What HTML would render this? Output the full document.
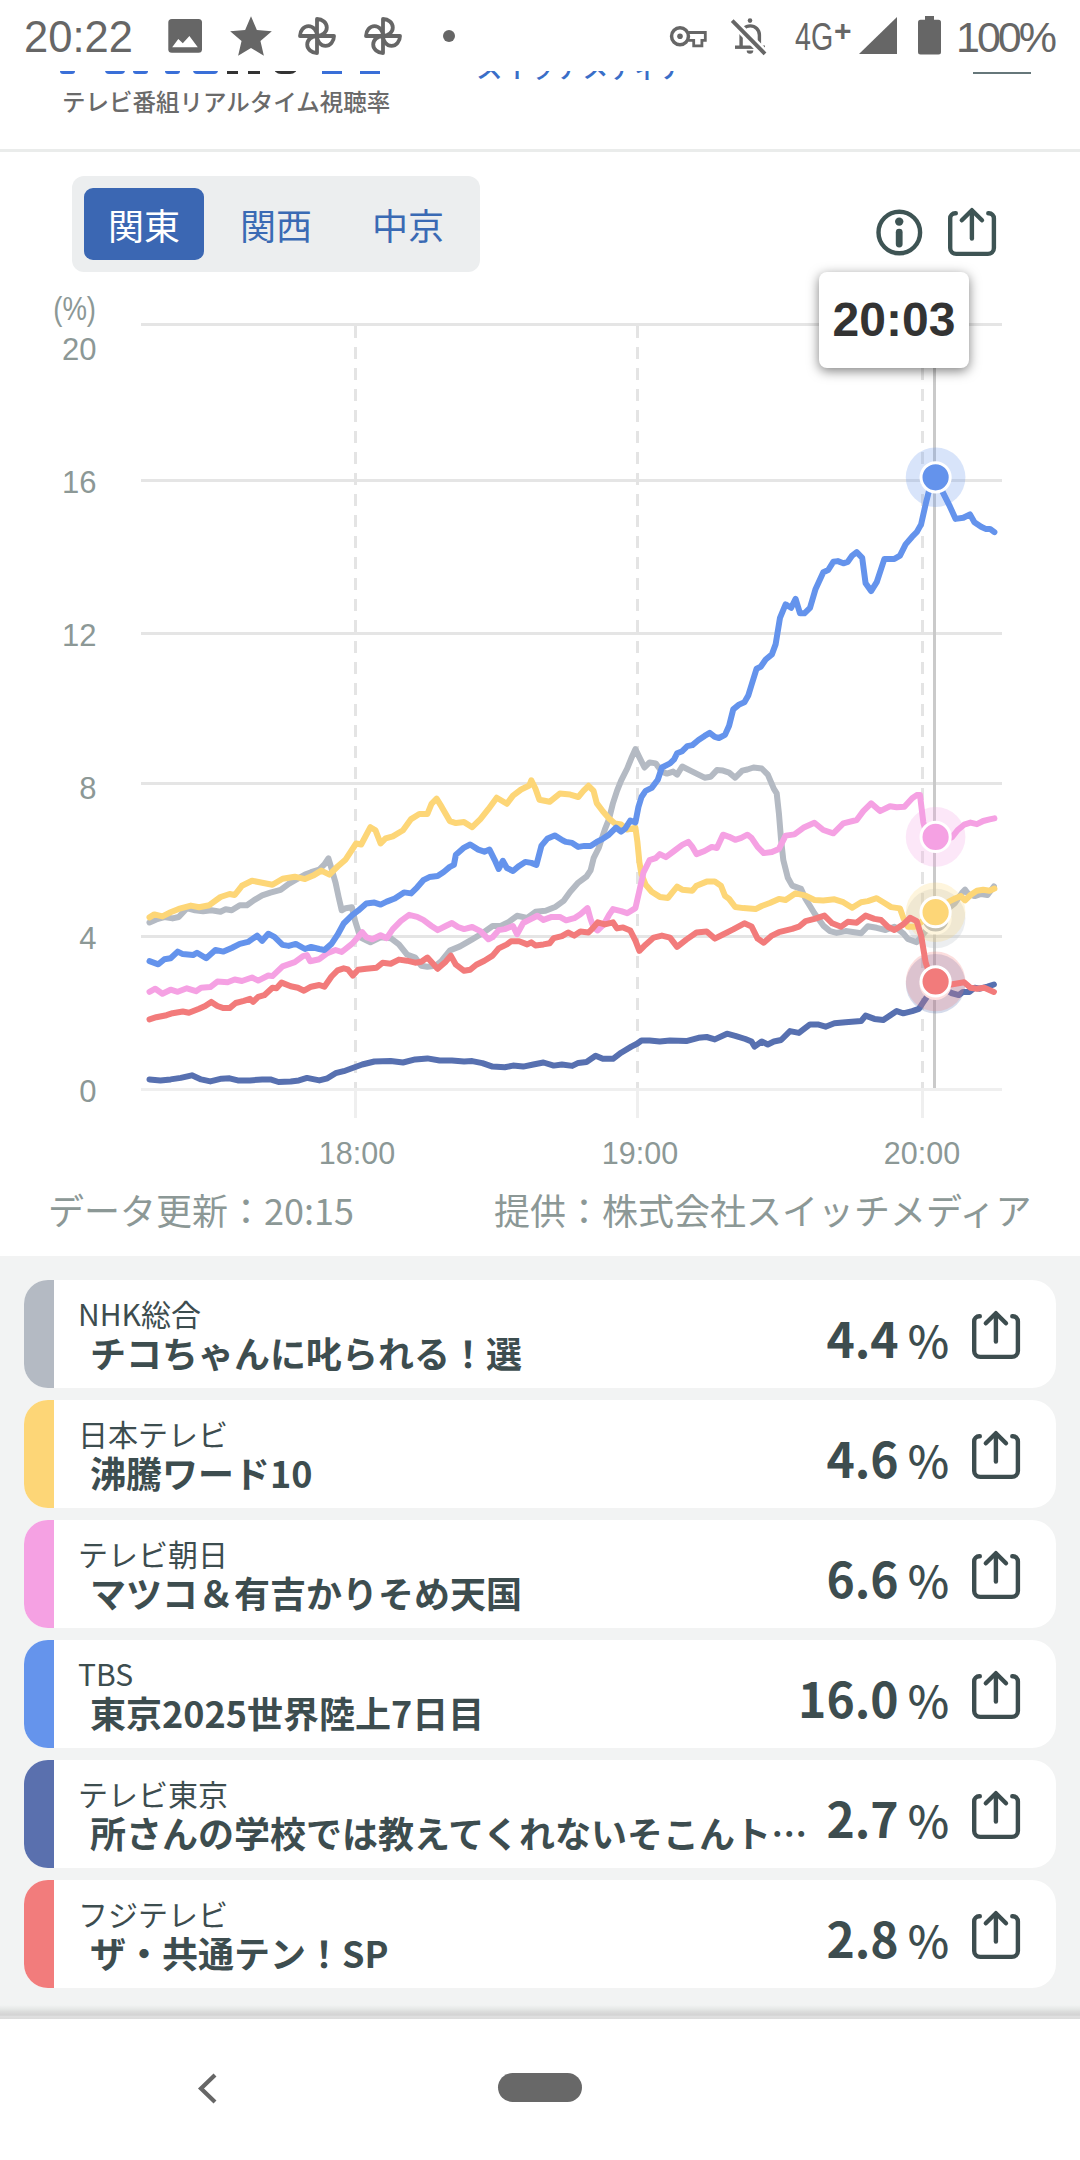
<!DOCTYPE html>
<html lang="ja">
<head>
<meta charset="utf-8">
<title>テレビ番組リアルタイム視聴率</title>
<style>
html,body{margin:0;padding:0;}
body{width:1080px;height:2160px;overflow:hidden;background:#fff;position:relative;font-family:"Liberation Sans","Noto Sans CJK JP",sans-serif;}
.abs{position:absolute;}
.jp{font-family:"Noto Sans CJK JP","Liberation Sans",sans-serif;}
#status{position:absolute;left:0;top:0;width:1080px;height:71px;background:#fff;z-index:10;}
#status .t{position:absolute;color:#666;font-family:"Liberation Sans",sans-serif;white-space:nowrap;}
#hdr{position:absolute;left:0;top:0;width:1080px;height:151px;background:#fff;border-bottom:0;}
.sep{position:absolute;left:0;top:149px;width:1080px;height:3px;background:#eaeceb;}
.seg{position:absolute;left:72px;top:176px;width:408px;height:96px;background:#eceeef;border-radius:12px;}
.seg .b{position:absolute;top:12px;height:72px;width:120px;border-radius:9px;font-size:36px;line-height:72px;text-align:center;color:#3a6ab4;}
.seg .on{background:#3b67b3;color:#fff;}
.ylab{position:absolute;right:983.5px;font-size:31px;line-height:31px;color:#8c9896;text-align:right;white-space:nowrap;}
.xlab{position:absolute;width:120px;font-size:30.5px;line-height:30px;color:#8c9896;text-align:center;}
.foot{position:absolute;top:1189px;font-size:36px;line-height:40px;color:#8c9896;white-space:nowrap;}
#list{position:absolute;left:0;top:1256px;width:1080px;height:751px;background:#f2f3f3;}
.card{position:absolute;left:24px;width:1032px;height:108px;background:#fff;border-radius:24px;overflow:hidden;}
.card .bar{position:absolute;left:0;top:0;width:30px;height:108px;}
.card .ch{position:absolute;left:54px;top:16px;font-size:30px;line-height:34px;color:#3d4d4f;white-space:nowrap;}
.card .ti{position:absolute;left:66px;top:50px;font-size:36px;line-height:44px;font-weight:700;color:#3d4d4f;white-space:nowrap;}
.card .val{position:absolute;right:107px;top:29px;font-size:48px;line-height:56px;font-weight:700;color:#3d4d4f;white-space:nowrap;}
.card .val span{font-size:44px;font-weight:500;margin-left:9px;}
.card svg.sh{position:absolute;left:946px;top:29px;}
#navshadow{position:absolute;left:0;top:2005px;width:1080px;height:14px;background:linear-gradient(#f2f3f3 0px,#e6e8e7 4px,#dcdddc 6.5px,#d3d3d3 10px,#dfdfdf 11.5px,#dcdcdc 14px);}
#nav{position:absolute;left:0;top:2019px;width:1080px;height:141px;background:#fff;}
</style>
</head>
<body>
<!-- header (scrolled under status bar) -->
<div id="hdr">
  <div class="abs" style="left:60px;top:70px;width:15px;height:4px;background:#3a6fd8;border-radius:0 0 3px 3px"></div>
  <div class="abs" style="left:105px;top:70px;width:20px;height:4px;background:#3a6fd8;border-radius:0 0 6px 6px"></div>
  <div class="abs" style="left:133px;top:70px;width:15px;height:4px;background:#3a6fd8;border-radius:0 0 3px 3px"></div>
  <div class="abs" style="left:165px;top:70px;width:15px;height:4px;background:#3a6fd8;border-radius:0 0 3px 3px"></div>
  <div class="abs" style="left:193px;top:70px;width:25px;height:4px;background:#3a6fd8;border-radius:0 0 8px 8px"></div>
  <div class="abs" style="left:227px;top:70px;width:11px;height:4px;background:#333;"></div>
  <div class="abs" style="left:248px;top:70px;width:12px;height:4px;background:#333;"></div>
  <div class="abs" style="left:273px;top:66px;width:25px;height:8px;background:#333;border-radius:0 0 13px 13px"></div>
  <div class="abs" style="left:322px;top:70px;width:20px;height:4px;background:#3a6fd8;"></div>
  <div class="abs" style="left:360px;top:70px;width:20px;height:4px;background:#3a6fd8;"></div>
  <div class="abs jp" style="left:476px;top:51.5px;font-size:26.5px;line-height:30px;color:#3a6ec8;font-weight:500;white-space:nowrap;">スイッチメディア</div>
  <div class="abs jp" style="left:62px;top:85.5px;font-size:23.5px;line-height:30px;color:#6a6a6a;font-weight:500;white-space:nowrap">テレビ番組リアルタイム視聴率</div>
  <div class="abs" style="left:973px;top:72px;width:58px;height:1.5px;background:#66777a"></div>
  <div class="sep"></div>
</div>

<!-- status bar -->
<div id="status">
  <div class="t" style="left:24px;top:15px;font-size:43.5px;line-height:44px">20:22</div>
  <svg class="abs" style="left:166px;top:18px" width="38" height="36" viewBox="0 0 38 36">
    <rect x="2.3" y="1.1" width="33.7" height="33.7" rx="3.5" fill="#666"/>
    <path d="M6.2 29.2 L12.3 21.1 L16.8 25.3 L23.4 18.1 L31.8 29.2 Z" fill="#fff"/>
  </svg>
  <svg class="abs" style="left:225.8px;top:12.2px" width="50" height="50" viewBox="0 0 24 24">
    <path d="M12 17.27L18.18 21l-1.64-7.03L22 9.24l-7.19-.61L12 2 9.19 8.63 2 9.24l5.46 4.73L5.82 21z" fill="#666"/>
  </svg>
  <svg class="abs" style="left:297px;top:16px" width="40" height="40" viewBox="-20 -20 40 40">
    <g fill="none" stroke="#666" stroke-width="3.8" stroke-linejoin="round" stroke-linecap="round">
      <path d="M0 0 V-17 A9.8 8.5 0 0 1 0 0 Z"/>
      <path d="M0 0 H17 A8.5 9.8 0 0 1 0 0 Z"/>
      <path d="M0 0 V17 A9.8 8.5 0 0 1 0 0 Z"/>
      <path d="M0 0 H-17 A8.5 9.8 0 0 1 0 0 Z"/>
    </g>
  </svg>
  <svg class="abs" style="left:363px;top:16px" width="40" height="40" viewBox="-20 -20 40 40">
    <g fill="none" stroke="#666" stroke-width="3.8" stroke-linejoin="round" stroke-linecap="round">
      <path d="M0 0 V-17 A9.8 8.5 0 0 1 0 0 Z"/>
      <path d="M0 0 H17 A8.5 9.8 0 0 1 0 0 Z"/>
      <path d="M0 0 V17 A9.8 8.5 0 0 1 0 0 Z"/>
      <path d="M0 0 H-17 A8.5 9.8 0 0 1 0 0 Z"/>
    </g>
  </svg>
  <div class="abs" style="left:443px;top:30px;width:12px;height:12px;border-radius:6px;background:#666"></div>
  <svg class="abs" style="left:665px;top:20px" width="45" height="30" viewBox="0 0 45 30">
    <circle cx="15" cy="16.3" r="8.45" fill="none" stroke="#666" stroke-width="3.5"/>
    <circle cx="15" cy="16.3" r="2.8" fill="#666"/>
    <path d="M23.2 12.5 H40.3 V20.3 H36.9 V25.8 H28.7 V20.3 H23.2" fill="none" stroke="#666" stroke-width="2.8"/>
  </svg>
  <svg class="abs" style="left:725px;top:15px" width="48" height="45" viewBox="0 0 48 45">
    <g fill="none" stroke="#666" stroke-width="3.4">
      <path d="M16.1 32.2 V20 A9.15 9.15 0 0 1 34.4 20 V32.2"/>
      <path d="M10 32.2 H40"/>
    </g>
    <path d="M21.7 35.4 A3.3 3.3 0 0 0 28.3 35.4 Z" fill="#666"/>
    <circle cx="25" cy="5.6" r="2.3" fill="#666"/>
    <path d="M7.2 5.6 L40 38.9" stroke="#fff" stroke-width="9"/>
    <path d="M7.2 5.6 L40 38.9" stroke="#666" stroke-width="3.9"/>
  </svg>
  <div class="t" style="left:795px;top:14.5px;font-size:39.5px;line-height:42px;transform:scaleX(0.725);transform-origin:0 0">4G</div>
  <div class="t" style="left:834px;top:15px;font-size:30px;line-height:32px;font-weight:bold">+</div>
  <svg class="abs" style="left:859px;top:17px" width="38" height="37" viewBox="0 0 38 37">
    <path d="M38 0 V37 H0 Z" fill="#666"/>
  </svg>
  <svg class="abs" style="left:918px;top:16px" width="23" height="39" viewBox="0 0 23 39">
    <rect x="7" y="0" width="9" height="4.5" fill="#666"/>
    <rect x="0" y="3.8" width="23" height="34.7" rx="2.5" fill="#666"/>
  </svg>
  <div class="t" style="left:956px;top:15px;font-size:43px;line-height:44px;letter-spacing:-3px">100%</div>
</div>

<!-- chart -->
<div class="seg">
  <div class="b on jp" style="left:12px">関東</div>
  <div class="b jp" style="left:144px">関西</div>
  <div class="b jp" style="left:276px">中京</div>
</div>
<svg class="abs" style="left:874px;top:207px" width="52" height="52" viewBox="0 0 52 52">
  <circle cx="25.3" cy="25.5" r="20.8" fill="none" stroke="#3e5454" stroke-width="4.4"/>
  <circle cx="25.2" cy="14.6" r="4.2" fill="#3e5454"/>
  <path d="M25.2 25.2 V37" stroke="#3e5454" stroke-width="6.8" stroke-linecap="round"/>
</svg>
<svg class="abs" style="left:946px;top:205.5px" width="52" height="52" viewBox="0 0 52 52"><g fill="none" stroke="#3e5454" stroke-width="4.4" stroke-linecap="round" stroke-linejoin="round"><path d="M9.8 7.3 H9.2 a5 5 0 0 0 -5 5 V41.9 a6 6 0 0 0 6 6 H41.9 a6 6 0 0 0 6 -6 V12.3 a5 5 0 0 0 -5 -5 H42.3"/><path d="M25.9 32.6 V5"/><path d="M15.8 14.3 L25.9 4.2 L36 14.3"/></g></svg>

<div class="ylab" style="top:296px;font-size:27.5px;right:984px;transform:scaleY(1.2);transform-origin:100% 100%">(%)</div>
<div class="ylab" style="top:334px">20</div>
<div class="ylab" style="top:467px">16</div>
<div class="ylab" style="top:620px">12</div>
<div class="ylab" style="top:773px">8</div>
<div class="ylab" style="top:923px">4</div>
<div class="ylab" style="top:1076px">0</div>

<svg class="abs" style="left:0;top:0" width="1080" height="1256" viewBox="0 0 1080 1256">
<rect x="141" y="323.0" width="861" height="3" fill="#e5e5e5"/>
<rect x="141" y="479.0" width="861" height="3" fill="#e5e5e5"/>
<rect x="141" y="632.0" width="861" height="3" fill="#e5e5e5"/>
<rect x="141" y="782.0" width="861" height="3" fill="#e5e5e5"/>
<rect x="141" y="935.0" width="861" height="3" fill="#e5e5e5"/>
<rect x="141" y="1088" width="861" height="3" fill="#efefef"/>
<line x1="355.5" y1="326" x2="355.5" y2="1088" stroke="#e4e4e4" stroke-width="3" stroke-dasharray="12 9"/>
<rect x="354.0" y="1088" width="3" height="30" fill="#efefef"/>
<line x1="637.5" y1="326" x2="637.5" y2="1088" stroke="#e4e4e4" stroke-width="3" stroke-dasharray="12 9"/>
<rect x="636.0" y="1088" width="3" height="30" fill="#efefef"/>
<line x1="922.5" y1="326" x2="922.5" y2="1088" stroke="#e4e4e4" stroke-width="3" stroke-dasharray="12 9"/>
<rect x="921.0" y="1088" width="3" height="30" fill="#efefef"/>

<rect x="933" y="368" width="3" height="720" fill="#cacaca"/>
<polyline points="149.5,922.5 156.3,919.4 164.4,917 172.6,918.4 178.7,917 186.9,908.2 195,910.3 203.1,911.3 211.3,910.3 220.5,911.7 225.6,909.3 231.7,910.3 239.8,905.2 246.9,905.2 254.1,900.1 262.2,895.4 270.4,892.6 280.6,889.9 288.7,883.8 296.9,879.1 305,874.6 311.1,872.2 319.3,869.5 324.4,864.4 328.4,858.3 331.5,868.5 335.6,882.8 338.6,897 341.7,910.3 345.7,908.2 351.9,907.2 355.1,920.9 360.2,937.2 370.4,942.3 380.6,937.2 390.7,938.2 398.9,944.4 407,954.5 415.2,957.6 421.3,965.7 427.4,966.8 435.6,965.7 441.7,960.7 449.8,950.5 460,946.4 472.2,939.3 482.4,933.2 492.6,926 500.7,926 508.9,921.9 517,915.8 527.2,917.9 535.4,911.8 545.6,910.7 555.7,906.7 563.9,900.6 570.2,891.8 578.3,882.6 586.5,876.5 590.6,870.4 593.6,858.2 598.7,848 604.8,829.6 608.9,819.4 613,803.1 617,790.9 621.1,780.7 627.2,768.5 631.3,758.3 635.4,749.2 639.4,757.3 644.5,767.5 649.6,762.4 655.7,763.4 661.9,771.6 666.9,773.6 673.1,771.6 677.1,774.6 682.2,766.5 690.4,770.6 698.5,774.6 704.6,777.7 710.7,776.7 716.9,770.1 723,770.6 729.1,772.6 735.2,777.7 742.3,770.6 747.4,769.5 753.5,767.5 761.7,768.5 767.8,774.6 773.9,788.9 776.7,793.3 778.9,813.3 781.1,840 783.3,860 787.8,877.8 792.2,885.6 801.1,888.9 805.6,898.9 814.4,913.3 823.3,925.6 830,931.1 836.7,932.9 845.6,931.1 854.4,932.2 861.1,933.3 867.8,926.2 876.7,927.8 885.6,930 894.4,926.7 903.3,933.3 907.8,938.9 916.7,942.2 935.6,918.9 954.5,903.5 962,892.9 965.1,889.7 968.3,894 974.7,896.1 981.1,894 987.5,895 993.9,886.5" fill="none" stroke="#b4bac3" stroke-width="6" stroke-linejoin="round" stroke-linecap="round"/>
<circle cx="935.6" cy="918.5" r="29.8" fill="#b4bac3" fill-opacity="0.25"/>
<circle cx="935.6" cy="918.5" r="14.6" fill="#b4bac3" stroke="#fff" stroke-width="3"/>
<polyline points="149.5,917.4 154.3,914.4 162.4,916.4 170.6,912.3 178.7,908.9 190.9,905.6 199.1,907.2 209.3,905.2 220.5,897 229.6,894 234.7,895 241.9,885.8 252,880.7 262.2,882.8 272.4,884.8 282.6,878.7 294.8,876.7 305,879.1 313.2,875.6 321.3,870.6 329.4,874.6 337.6,866.5 345.7,859.4 356.1,843.5 361.2,844.5 370.4,827.2 375.5,830.3 380.6,843.5 385.6,838.4 392.8,836.4 403,830.3 411.1,819.1 419.3,814 427.4,814 431.5,803.8 436.6,798.7 441.7,806.9 449.8,821.1 455.9,823.1 464.1,822.1 472.2,827.2 480.4,819.1 488.5,808.9 496.7,797.7 506.9,803.8 513,795.6 521.1,789.5 529.3,785.5 531.3,780.4 535.4,788.5 539.4,799.7 549.6,801.8 559.8,793.6 570.2,794.6 578.3,797 583.4,790.9 588.5,785.8 593.6,790.9 596.7,803.1 602.8,811.3 608.9,818.4 615,823.5 621.1,824.5 627.2,829.6 635.4,827.6 637.4,841.9 639.4,862.2 641.5,874.4 645.6,884.6 651.7,891.8 659.8,896.9 668,897.9 672,892.8 677.1,886.7 682.2,889.7 692.4,890.7 696.5,885.7 706.7,881.6 714.8,881.6 720.9,885.7 725,895.8 729.1,898.9 735.2,907 743.3,908.1 755.6,909.1 761.7,906 769.8,903 778.9,898.9 785.6,900 795.6,893.3 805.6,895.6 814.4,900 823.3,900.4 834.4,899.3 843.3,902.2 852.2,907.8 861.1,902.2 867.8,901.1 876.7,898.2 883.3,902.2 891.1,907.1 900,908.4 903.3,917.8 907.8,926.7 914.4,926.7 921.1,922.2 935.6,911.1 949.2,901.4 955.6,898.2 960.9,896.1 965.1,900.3 970.5,895 976.9,890.8 983.2,889.7 989.6,890.8 994.4,888.6" fill="none" stroke="#fdd677" stroke-width="6" stroke-linejoin="round" stroke-linecap="round"/>
<circle cx="935.6" cy="912.2" r="29.8" fill="#fdd677" fill-opacity="0.25"/>
<circle cx="935.6" cy="912.2" r="14.6" fill="#fdd677" stroke="#fff" stroke-width="3"/>
<polyline points="149.5,991.8 155.3,988.7 162.4,993.8 170.6,989.7 177.7,991.8 186.9,988.3 196,991.2 201.1,987.7 210.3,987.1 217.4,981.6 227.6,982.2 234.7,979.5 241.9,981 252,977.5 258.2,980.6 268.3,975.5 272.4,976.1 282.6,966.3 294.8,962.2 303,956.1 307,955.1 310.1,961.2 319.3,959.2 327.4,953.1 335.6,950 341.7,952 351.9,943.9 356.1,939.3 362.2,932.1 366.3,937.2 372.4,939.3 380.6,935.2 386.7,938.2 392.8,929.1 400.9,920.9 409.1,914.8 417.2,916.9 423.3,919.9 431.5,926 437.6,930.1 445.7,926 451.9,923 458,927 464.1,929.1 472.2,927 480.4,931.1 488.5,939.3 492.6,937.2 498.7,930.1 504.8,929.1 513,926 517,934.2 523.2,923 529.3,919.9 537.4,915.8 543.5,919.9 551.7,916.9 559.8,916.9 566.1,920.3 574.3,918.2 580.4,914.2 587.5,908.1 590.6,919.3 593.6,927.4 597.7,930.5 603.8,924.4 608.9,915.2 613,909.1 621.1,911.1 627.2,913.2 635.4,908.1 639.4,890.7 643.5,872.4 649.6,860.2 655.7,858.2 659.8,854.1 665.9,857.1 674.1,851 682.2,844.9 688.3,841.9 692.4,846.9 696.5,854.1 704.6,851 711.8,846.9 716.9,848 723,834.7 729.1,836.8 735.2,839.8 741.3,837.8 747.4,834.7 751.5,837.8 757.6,846.9 763.7,853.1 771.9,852 778.9,848.9 785.6,835.6 794.4,834.4 803.3,827.8 814.4,822.7 823.3,830 833.3,833.3 843.3,823.3 856.7,820 863.3,811.1 871.1,803.3 880,811.1 890,806.2 896.7,807.3 904.4,806.7 912.2,798.2 916.7,795.1 920,795.1 923.3,822.2 925.6,831.1 935.6,836.7 951.8,837.5 957.7,830 964.1,824.7 970.5,822.6 976.9,824.2 983.2,821 989.6,819.4 994.4,818.3" fill="none" stroke="#f5a1e3" stroke-width="6" stroke-linejoin="round" stroke-linecap="round"/>
<circle cx="935.6" cy="836.9" r="29.8" fill="#f5a1e3" fill-opacity="0.25"/>
<circle cx="935.6" cy="836.9" r="14.6" fill="#f5a1e3" stroke="#fff" stroke-width="3"/>
<polyline points="149.5,961.2 158.3,964.3 164.4,959.2 170.6,958.2 177.7,951.6 182.8,954.1 193,955.1 197,952.7 206.2,958.2 215.4,950 223.5,951.6 231.7,948 239.8,943.9 248,941.9 257.1,935.7 262.2,940.8 268.3,933.7 274.4,936.8 282.6,944.9 288.7,945.9 295.8,943.9 305,949 311.1,946.9 319.3,949 324.4,950 331.5,943.9 337.6,934.7 343.7,923.5 351.9,915.4 358.1,910.7 366.3,903.6 374.4,902.6 380.6,904.6 386.7,901.6 394.8,898.5 404,892.4 411.1,893.4 417.2,887.3 423.3,880.2 429.4,877.1 437.6,876.1 443.7,872 449.8,866.9 453.9,864.9 455.9,854.7 464.1,847.6 470.2,844.5 478.3,849.6 484.4,851.7 489.5,849.6 494.6,859.8 498.7,869 502.8,860.8 506.9,868 513,871 519.1,865.9 525.2,861.9 531.3,862.9 536.4,864.9 541.5,845.6 547.6,838.4 554.7,835.4 562.9,840.5 566.1,841.9 572.2,842.9 578.3,846.9 584.4,845.9 590.6,845.9 596.7,841.9 602.8,838.8 608.9,834.7 616,827.6 621.1,831.7 625.2,828.6 630.3,820.5 635.4,822.5 638.4,807.2 641.5,797 645.6,790.9 651.7,787.9 657.8,779.7 661.9,767.5 670,763.4 674.1,759.4 677.1,753.2 682.2,751.2 687.3,746.1 692.4,745.1 698.5,740 704.6,735.9 709.7,732.9 714.8,736.9 718.9,738 725,734.9 729.1,725.7 733.2,709.4 739.3,704.4 744.4,702.3 748.4,695.2 751.5,685 756.6,668.7 760.7,666.7 765.7,659.5 771.9,654.4 775.6,644.4 780,617.8 785.6,604.4 791.1,607.8 795.6,598.9 800,613.3 804.4,613.3 810,607.8 815.6,588.9 823.3,572.2 828.2,570 833.3,561.8 837.8,561.1 843.3,563.3 847.8,561.8 852.2,555.6 856.7,552.2 862.2,557.8 865.6,583.3 871.1,591.1 876.7,582.2 884.4,558.9 894.4,558.9 900,555.6 905.6,544.4 912.2,536.7 916.7,532.2 921.1,524.4 925.6,504.4 928.9,491.1 935.6,477.3 942.2,491.1 950,506.7 955.6,518.9 963.3,517.8 970,514.4 974.4,522.2 981.1,526.7 985.6,528.9 990,528.9 994.4,532.2" fill="none" stroke="#6493ec" stroke-width="6" stroke-linejoin="round" stroke-linecap="round"/>
<circle cx="935.6" cy="477.3" r="29.8" fill="#6493ec" fill-opacity="0.25"/>
<circle cx="935.6" cy="477.3" r="14.6" fill="#6493ec" stroke="#fff" stroke-width="3"/>
<polyline points="149.5,1079.4 160.4,1080.4 170.6,1079.4 180.7,1077.9 191.9,1075.3 201.1,1079.4 210.3,1081.4 221.5,1078.7 229.6,1078.3 237.8,1080.4 250,1080.4 262.2,1079.4 270.4,1079.4 278.5,1082 290.7,1081.4 298.9,1080.4 307,1077.9 319.3,1080.4 327.4,1078.3 335.6,1073.2 343.7,1071.2 351.9,1068.2 362.2,1064.5 374.4,1061.5 390.7,1061.1 403,1062.5 415.2,1059.4 427.4,1058.4 439.6,1060.5 451.9,1060.5 464.1,1061.5 472.2,1061.1 482.4,1063.1 492.6,1066.6 504.8,1067.2 513,1065.6 523.2,1066.6 533.3,1064.5 543.5,1062.5 553.7,1065.6 561.9,1064.5 572.2,1065.9 578.3,1062.9 586.5,1061.9 595.6,1055.7 602.8,1058.8 613,1058.8 621.1,1052.7 631.3,1046.6 637.4,1043.5 641.5,1040.5 649.6,1040.5 659.8,1041.5 670,1040.5 686.3,1041.1 698.5,1037.8 706.7,1037 714.8,1039.4 727,1033.7 735.2,1035.8 745.4,1039 751.5,1041.5 754.5,1046.6 761.7,1041.5 767.8,1044.5 773.9,1041.5 781.1,1040 790,1031.1 798.9,1032.9 810,1024.4 817.8,1024.4 825.6,1026.7 834.4,1023.3 845.6,1022.2 861.1,1021.1 865.6,1015.6 874.4,1018.9 883.3,1020 896.7,1011.1 903.3,1013.3 912.2,1011.1 918.9,1008.9 923.3,1002.2 927.8,995.6 935.6,983.3 951.3,993 958.8,995.1 963,991.9 969.4,991.9 974.7,987.7 980,988.7 987.5,986.6 993.9,984.5" fill="none" stroke="#5770b0" stroke-width="6" stroke-linejoin="round" stroke-linecap="round"/>
<circle cx="935.6" cy="983.8" r="29.8" fill="#5770b0" fill-opacity="0.25"/>
<circle cx="935.6" cy="983.8" r="14.6" fill="#5770b0" stroke="#fff" stroke-width="3"/>
<polyline points="149.5,1019.3 156.3,1017.2 166.5,1015.2 172.6,1013.2 182.8,1011.5 188.9,1012.7 199.1,1008.7 205.2,1006 211.3,1001.9 217.4,1006 223.5,1008.1 229.6,1008.1 235.7,1003 243.9,1000.9 250,998.9 253.1,1001.9 258.2,996.9 264.3,995.2 272.4,987.7 276.5,988.3 281.6,982.6 290.7,986.3 297.9,987.7 304,990.7 311.1,986.7 319.3,985 324.4,986.7 331.5,976.5 337.6,970.4 343.7,968.3 347.8,969.4 352.9,975.5 358.1,969.8 366.3,968.8 376.5,967.8 382.6,962.7 390.7,963.7 398.9,959.6 407,960.7 415.2,962.7 421.3,961.7 427.4,957.6 437.6,968.8 445.7,961.7 450.8,955.6 455.9,964.7 464.1,970.8 470.2,969.8 476.3,964.7 484.4,960.7 492.6,955.6 498.7,948.4 506.9,944.4 510.9,941.3 519.1,941.3 527.2,944.4 531.3,942.3 535.4,945.4 543.5,944.4 549.6,943.3 553.7,938.2 561.9,936.2 568.1,932.5 574.3,935.6 580.4,931.5 588.5,932.5 592.6,928.4 597.7,922.3 604.8,924.4 613,922.3 617,928.4 623.1,927.4 630.3,930.5 635.4,940.7 639.4,950.8 645.6,944.7 653.7,937.6 661.9,935.6 670,937.6 677.1,946.8 686.3,939.6 696.5,932.5 706.7,931.5 714.8,938.6 723,934.5 733.2,929.4 744.4,923.3 751.5,926.4 757.6,938.6 763.7,942.7 771.9,935.6 778.9,932.2 792.2,928.9 798.9,926.7 805.6,921.1 814.4,918.9 824.4,915.6 832.2,923.3 841.1,926.7 847.8,921.8 856.7,922.7 865.6,915.6 874.4,918.9 881.1,920 887.8,926.7 894.4,930 903.3,924.4 910,917.8 916.7,921.1 921.1,935.6 925.6,962.2 927.8,968.9 935.6,980.4 951.3,984.5 964.1,982.3 970.5,987.7 976.9,988.7 984.3,987.7 993.9,991.9" fill="none" stroke="#f27b7b" stroke-width="6" stroke-linejoin="round" stroke-linecap="round"/>
<circle cx="935.6" cy="981.4" r="29.8" fill="#f27b7b" fill-opacity="0.25"/>
<circle cx="935.6" cy="981.4" r="14.6" fill="#f27b7b" stroke="#fff" stroke-width="3"/>


</svg>

<div class="abs" style="left:819px;top:272px;width:150px;height:96px;background:#fff;border-radius:8px;box-shadow:0 3px 12px rgba(0,0,0,0.5);"></div>
<div class="abs" style="left:819px;top:272px;width:150px;height:96px;font-size:48px;line-height:96px;font-weight:bold;color:#333;text-align:center;">20:03</div>

<div class="xlab" style="left:297px;top:1137.5px">18:00</div>
<div class="xlab" style="left:580px;top:1137.5px">19:00</div>
<div class="xlab" style="left:862px;top:1137.5px">20:00</div>

<div class="foot jp" style="left:48px">データ更新：20:15</div>
<div class="foot jp" style="left:494px">提供：株式会社スイッチメディア</div>

<!-- list -->
<div id="list">
  <div class="card jp" style="top:24px"><div class="bar" style="background:#b4bac3"></div>
    <div class="ch">NHK総合</div><div class="ti">チコちゃんに叱られる！選</div>
    <div class="val">4.4<span>%</span></div>
    <svg class="sh" width="52" height="52" viewBox="0 0 52 52"><g fill="none" stroke="#3d4d4f" stroke-width="4.4" stroke-linecap="round" stroke-linejoin="round"><path d="M9.8 7.3 H9.2 a5 5 0 0 0 -5 5 V41.9 a6 6 0 0 0 6 6 H41.9 a6 6 0 0 0 6 -6 V12.3 a5 5 0 0 0 -5 -5 H42.3"/><path d="M25.9 32.6 V5"/><path d="M15.8 14.3 L25.9 4.2 L36 14.3"/></g></svg>
  </div>
  <div class="card jp" style="top:144px"><div class="bar" style="background:#fdd677"></div>
    <div class="ch">日本テレビ</div><div class="ti">沸騰ワード10</div>
    <div class="val">4.6<span>%</span></div>
    <svg class="sh" width="52" height="52" viewBox="0 0 52 52"><g fill="none" stroke="#3d4d4f" stroke-width="4.4" stroke-linecap="round" stroke-linejoin="round"><path d="M9.8 7.3 H9.2 a5 5 0 0 0 -5 5 V41.9 a6 6 0 0 0 6 6 H41.9 a6 6 0 0 0 6 -6 V12.3 a5 5 0 0 0 -5 -5 H42.3"/><path d="M25.9 32.6 V5"/><path d="M15.8 14.3 L25.9 4.2 L36 14.3"/></g></svg>
  </div>
  <div class="card jp" style="top:264px"><div class="bar" style="background:#f5a1e3"></div>
    <div class="ch">テレビ朝日</div><div class="ti">マツコ＆有吉かりそめ天国</div>
    <div class="val">6.6<span>%</span></div>
    <svg class="sh" width="52" height="52" viewBox="0 0 52 52"><g fill="none" stroke="#3d4d4f" stroke-width="4.4" stroke-linecap="round" stroke-linejoin="round"><path d="M9.8 7.3 H9.2 a5 5 0 0 0 -5 5 V41.9 a6 6 0 0 0 6 6 H41.9 a6 6 0 0 0 6 -6 V12.3 a5 5 0 0 0 -5 -5 H42.3"/><path d="M25.9 32.6 V5"/><path d="M15.8 14.3 L25.9 4.2 L36 14.3"/></g></svg>
  </div>
  <div class="card jp" style="top:384px"><div class="bar" style="background:#6594ec"></div>
    <div class="ch">TBS</div><div class="ti">東京2025世界陸上7日目</div>
    <div class="val">16.0<span>%</span></div>
    <svg class="sh" width="52" height="52" viewBox="0 0 52 52"><g fill="none" stroke="#3d4d4f" stroke-width="4.4" stroke-linecap="round" stroke-linejoin="round"><path d="M9.8 7.3 H9.2 a5 5 0 0 0 -5 5 V41.9 a6 6 0 0 0 6 6 H41.9 a6 6 0 0 0 6 -6 V12.3 a5 5 0 0 0 -5 -5 H42.3"/><path d="M25.9 32.6 V5"/><path d="M15.8 14.3 L25.9 4.2 L36 14.3"/></g></svg>
  </div>
  <div class="card jp" style="top:504px"><div class="bar" style="background:#5a70ae"></div>
    <div class="ch">テレビ東京</div><div class="ti" style="width:720px;overflow:hidden;text-overflow:ellipsis">所さんの学校では教えてくれないそこんトコロ！</div>
    <div class="val">2.7<span>%</span></div>
    <svg class="sh" width="52" height="52" viewBox="0 0 52 52"><g fill="none" stroke="#3d4d4f" stroke-width="4.4" stroke-linecap="round" stroke-linejoin="round"><path d="M9.8 7.3 H9.2 a5 5 0 0 0 -5 5 V41.9 a6 6 0 0 0 6 6 H41.9 a6 6 0 0 0 6 -6 V12.3 a5 5 0 0 0 -5 -5 H42.3"/><path d="M25.9 32.6 V5"/><path d="M15.8 14.3 L25.9 4.2 L36 14.3"/></g></svg>
  </div>
  <div class="card jp" style="top:624px"><div class="bar" style="background:#f27c7c"></div>
    <div class="ch">フジテレビ</div><div class="ti">ザ・共通テン！SP</div>
    <div class="val">2.8<span>%</span></div>
    <svg class="sh" width="52" height="52" viewBox="0 0 52 52"><g fill="none" stroke="#3d4d4f" stroke-width="4.4" stroke-linecap="round" stroke-linejoin="round"><path d="M9.8 7.3 H9.2 a5 5 0 0 0 -5 5 V41.9 a6 6 0 0 0 6 6 H41.9 a6 6 0 0 0 6 -6 V12.3 a5 5 0 0 0 -5 -5 H42.3"/><path d="M25.9 32.6 V5"/><path d="M15.8 14.3 L25.9 4.2 L36 14.3"/></g></svg>
  </div>
</div>
<div id="navshadow"></div>
<div id="nav">
  <svg class="abs" style="left:194px;top:52.5px" width="28" height="34" viewBox="0 0 28 34">
    <path d="M21 3 L7 16.5 L21 30" fill="none" stroke="#666" stroke-width="4.2"/>
  </svg>
  <div class="abs" style="left:498px;top:54px;width:84px;height:29px;border-radius:15px;background:#686868"></div>
</div>
</body>
</html>
